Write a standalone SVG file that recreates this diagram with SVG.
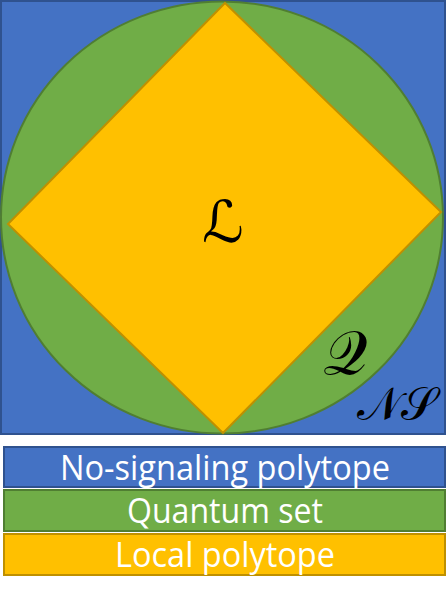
<svg xmlns="http://www.w3.org/2000/svg" width="447" height="601" viewBox="0 0 447 601">
<style>
.ns{fill:#4472C4;stroke:#2F528F;stroke-width:2}
.q{fill:#70AD47;stroke:#507E32;stroke-width:2}
.l{fill:#FFC000;stroke:#BF9000;stroke-width:2}
.lab{font-family:"Open Sans","DejaVu Sans",sans-serif;font-size:34px;fill:#FFFFFF;text-anchor:middle}
.m{font-family:"DejaVu Serif","DejaVu Sans",serif;fill:#000000}
</style>
<g id="ns-set">
<rect class="ns" x="1" y="1" width="444" height="433"/>
</g>
<g id="q-set">
<ellipse class="q" cx="222" cy="217.5" rx="221" ry="216"/>
</g>
<g id="l-set">
<polygon class="l" points="225,3 441,212 223,433 8,224"/>
</g>
<g id="labels-math">
<text class="m" x="223" y="242" font-size="58" text-anchor="middle">ℒ</text>
<text class="m" x="345" y="374" font-size="62" text-anchor="middle">𝒬</text>
<text class="m" x="397" y="420" font-size="46" text-anchor="middle">𝒩𝒮</text>
</g>
<g id="legend-ns">
<rect class="ns" x="4" y="447" width="441" height="40"/>
<text class="lab" x="225" y="480" textLength="330" lengthAdjust="spacingAndGlyphs">No-signaling polytope</text>
</g>
<g id="legend-q">
<rect class="q" x="4" y="490" width="441" height="41"/>
<text class="lab" x="225" y="523" textLength="196" lengthAdjust="spacingAndGlyphs">Quantum set</text>
</g>
<g id="legend-l">
<rect class="l" x="4" y="534" width="441" height="41"/>
<text class="lab" x="225" y="567" textLength="220" lengthAdjust="spacingAndGlyphs">Local polytope</text>
</g>
<g id="connectors"/>
</svg>
